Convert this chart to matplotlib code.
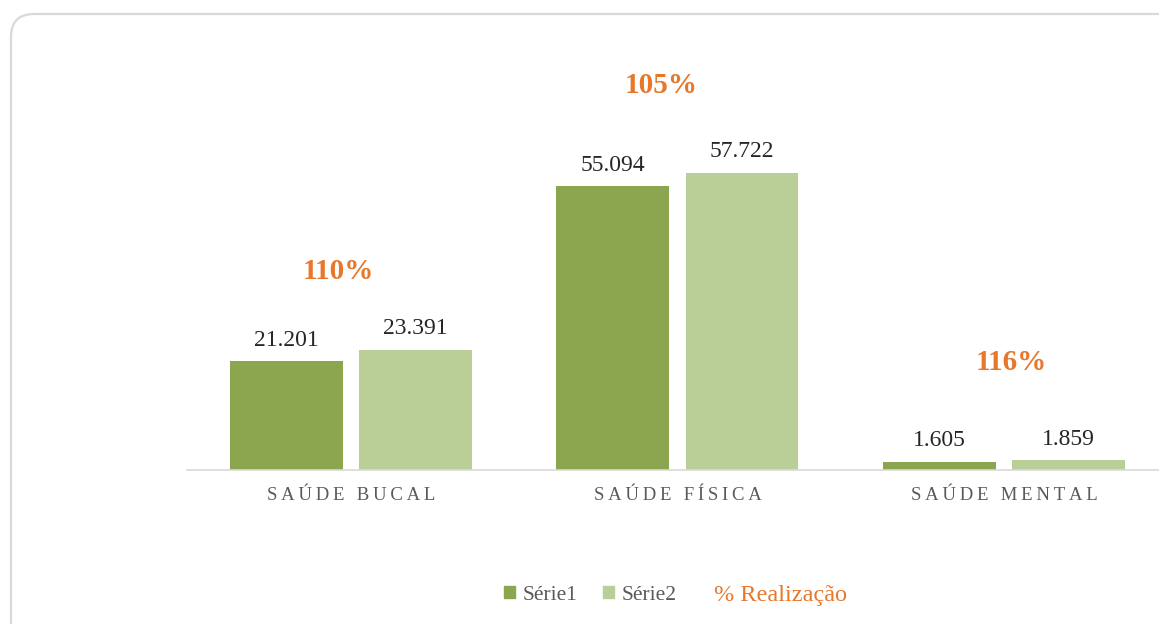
import matplotlib.pyplot as plt
from matplotlib.patches import FancyBboxPatch, Patch

plt.rcParams['font.family'] = ['Liberation Serif', 'DejaVu Serif']

# data
categories = ['SAÚDE BUCAL', 'SAÚDE FÍSICA', 'SAÚDE MENTAL']
serie1 = [21201, 55094, 1605]
serie2 = [23391, 57722, 1859]
realizacao = ['110%', '105%', '116%']
series_names = ['Série1', 'Série2', '% Realização']

# colours
c1 = '#8BA64F'
c2 = '#BACF98'
orange = '#E8772A'

# hand placement of the % labels (px offsets from the group centre / top bar)
pct_dx = [-13, -16, 7]
pct_dy = [71, 80, 90]

W, H = 1159, 624
fig = plt.figure(figsize=(W / 100, H / 100), dpi=100)

# rounded frame around the chart
frame = FancyBboxPatch((0.11, -0.3), 12.0, 6.40,
                       boxstyle='round,pad=0,rounding_size=0.23',
                       transform=fig.dpi_scale_trans,
                       facecolor='none', edgecolor='#D9D9D9', lw=1.6, zorder=-1)
fig.patches.append(frame)

ax = fig.add_axes([187 / W, (H - 470) / H, (W - 187) / W, 420 / H])
ax.set_facecolor('none')

x = list(range(len(categories)))
bw = 0.345
off = 0.198
b1 = ax.bar([i - off for i in x], serie1, bw, color=c1)
b2 = ax.bar([i + off for i in x], serie2, bw, color=c2)

ax.set_xlim(-0.502, 2.475)
ax.set_ylim(0, 81550)

def fmt(v):
    return f'{v:,}'.replace(',', '.')

for bars, vals in ((b1, serie1), (b2, serie2)):
    for r, v in zip(bars, vals):
        ax.annotate(fmt(v), (r.get_x() + r.get_width() / 2, v),
                    xytext=(0, 11), textcoords='offset points',
                    ha='center', va='baseline', fontsize=17, color='#262626')

for i, lab in enumerate(realizacao):
    top = max(serie1[i], serie2[i])
    ax.annotate(lab, (i, top), xytext=(pct_dx[i] * 0.72, pct_dy[i] * 0.72),
                textcoords='offset points', ha='center', va='baseline',
                fontsize=21, fontweight='bold', color=orange)

# spaced-out category labels
ax.set_xticks(x)
ax.set_xticklabels(['\u2009'.join(c) for c in categories],
                   fontsize=13.5, color='#595959')
ax.tick_params(axis='x', length=0, pad=12)
ax.set_yticks([])
for s in ('left', 'right', 'top'):
    ax.spines[s].set_visible(False)
ax.spines['bottom'].set_color('#D9D9D9')
ax.spines['bottom'].set_linewidth(1.2)

handles = [Patch(color=c1), Patch(color=c2)]
leg = fig.legend(handles, series_names[:2], loc='center',
                 bbox_to_anchor=(590 / W, 1 - 595 / H), ncol=2, frameon=False,
                 fontsize=15.5, handlelength=0.5, handleheight=0.5,
                 handletextpad=0.35, columnspacing=1.2)
for t in leg.get_texts():
    t.set_color('#595959')
fig.text(714 / W, 1 - 595 / H, series_names[2], ha='left', va='center',
         fontsize=17.5, color=orange)

fig.savefig('out.png', dpi=100, facecolor='white')
